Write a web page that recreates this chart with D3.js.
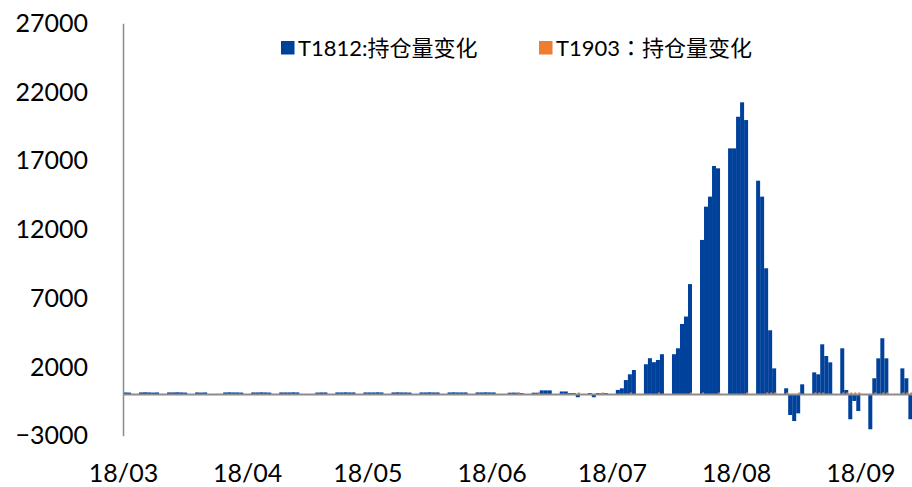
<!DOCTYPE html>
<html>
<head>
<meta charset="utf-8">
<script src="https://cdn.jsdelivr.net/npm/d3@7"></script>
<style>
  html, body { margin: 0; padding: 0; background: #fff; }
  svg { display: block; }
  text { font-family: Lato, "Noto Sans CJK SC", sans-serif; fill: #000; }
</style>
</head>
<body>
<svg id="chart" width="912" height="487"></svg>
<script>
// Trading days (2018) and daily open-interest changes for the two contracts
const dates = [
  "2018-03-01","2018-03-02",
  "2018-03-05","2018-03-06","2018-03-07","2018-03-08","2018-03-09",
  "2018-03-12","2018-03-13","2018-03-14","2018-03-15","2018-03-16",
  "2018-03-19","2018-03-20","2018-03-21","2018-03-22","2018-03-23",
  "2018-03-26","2018-03-27","2018-03-28","2018-03-29","2018-03-30",
  "2018-04-02","2018-04-03","2018-04-04","2018-04-05","2018-04-06",
  "2018-04-09","2018-04-10","2018-04-11","2018-04-12","2018-04-13",
  "2018-04-16","2018-04-17","2018-04-18","2018-04-19","2018-04-20",
  "2018-04-23","2018-04-24","2018-04-25","2018-04-26","2018-04-27",
  "2018-04-30","2018-05-01","2018-05-02","2018-05-03","2018-05-04",
  "2018-05-07","2018-05-08","2018-05-09","2018-05-10","2018-05-11",
  "2018-05-14","2018-05-15","2018-05-16","2018-05-17","2018-05-18",
  "2018-05-21","2018-05-22","2018-05-23","2018-05-24","2018-05-25",
  "2018-05-28","2018-05-29","2018-05-30","2018-05-31","2018-06-01",
  "2018-06-04","2018-06-05","2018-06-06","2018-06-07","2018-06-08",
  "2018-06-11","2018-06-12","2018-06-13","2018-06-14","2018-06-15",
  "2018-06-18","2018-06-19","2018-06-20","2018-06-21","2018-06-22",
  "2018-06-25","2018-06-26","2018-06-27","2018-06-28","2018-06-29",
  "2018-07-02","2018-07-03","2018-07-04","2018-07-05","2018-07-06",
  "2018-07-09","2018-07-10","2018-07-11","2018-07-12","2018-07-13",
  "2018-07-16","2018-07-17","2018-07-18","2018-07-19","2018-07-20",
  "2018-07-23","2018-07-24","2018-07-25","2018-07-26","2018-07-27",
  "2018-07-30","2018-07-31","2018-08-01","2018-08-02","2018-08-03",
  "2018-08-06","2018-08-07","2018-08-08","2018-08-09","2018-08-10",
  "2018-08-13","2018-08-14","2018-08-15","2018-08-16","2018-08-17",
  "2018-08-20","2018-08-21","2018-08-22","2018-08-23","2018-08-24",
  "2018-08-27","2018-08-28","2018-08-29","2018-08-30","2018-08-31",
  "2018-09-03","2018-09-04","2018-09-05","2018-09-06","2018-09-07",
  "2018-09-10","2018-09-11","2018-09-12","2018-09-13"
];

const t1812 = [
  150, 140,
  150, 160, 150, 140, 150,
  150, 150, 160, 150, 140,
  150, 140, 150, 0, 0,
  150, 160, 150, 150, 140,
  150, 150, 160, 150, 140,
  150, 150, 150, 160, 150,
  0, 0, 140, 150, 150,
  150, 150, 160, 150, 150,
  150, 150, 150, 160, 150,
  150, 160, 150, 150, 140,
  150, 150, 160, 150, 150,
  150, 160, 150, 150, 150,
  150, 150, 160, 150, 150,
  0, 130, 140, 130, 100,
  130, 130, 300, 300, 300,
  220, 220, 100, 100, -200,
  100, -200, 100, 80, 100,
  330, 450, 1050, 1470, 1780,
  2200, 2640, 2350, 2510, 2930,
  2930, 3360, 5130, 5670, 8030,
  11240, 13660, 14390, 16620, 16450,
  17900, 17900, 20200, 21250, 19960,
  15550, 14390, 9180, 4670, 1900,
  450, -1490, -1930, -1370, 740,
  1610, 1470, 3650, 2800, 2340,
  3360, 330, -1800, -470, -1200,
  -2530, 1180, 2630, 4090, 2630,
  0, 1900, 1180, -1800
];

const t1903 = [
  0, 0,
  0, 0, 0, 0, 0,
  0, 0, 0, 0, 0,
  0, 0, 0, 0, 0,
  0, 0, 0, 0, 0,
  0, 0, 0, 0, 0,
  0, 0, 0, 0, 0,
  0, 0, 0, 0, 0,
  0, 0, 0, 0, 0,
  0, 0, 0, 0, 0,
  0, 0, 0, 0, 0,
  0, 0, 0, 0, 0,
  0, 0, 0, 0, 0,
  0, 0, 0, 0, 0,
  0, 0, 0, 150, 0,
  0, 150, 0, 0, 0,
  0, 0, 0, 0, 150,
  0, 0, 0, 150, 0,
  0, 0, 0, 150, 0,
  0, 0, 0, 150, 0,
  0, 0, 0, 0, 150,
  150, 0, 0, 0, 150,
  0, 0, 0, 0, 150,
  0, 0, 150, 150, 150,
  150, 0, 0, 150, 0,
  150, 150, 150, 0, 0,
  150, 150, 150, 150, 150,
  0, 150, 0, 150, 150,
  0, 150, 150, 150
];

const yTicks = [-3000, 2000, 7000, 12000, 17000, 22000, 27000];
// each legend name is split so the full-width colon can use a centred CJK form
const seriesNames = [["T1812:", "", "持仓量变化"], ["T1903", "：", "持仓量变化"]];
const seriesColors = ["#00419b", "#ed7d31"];

const parse = d3.utcParse("%Y-%m-%d");
const rows = dates.map((d, i) => ({ date: parse(d), a: t1812[i], b: t1903[i] }));

const svg = d3.select("#chart");

const dayPx = 4.007;
const start = parse("2018-03-01");
const end = parse("2018-09-15");
const nDays = d3.utcDay.count(start, end);
const x = d3.scaleUtc().domain([start, end]).range([123, 123 + nDays * dayPx]);
const y = d3.scaleLinear().domain([-3000, 27000]).range([435.75, 23.25]);

const slot = d => x(d3.utcDay.offset(d, 1)) - x(d);

// T1812 bars fill the whole day slot
svg.append("g")
  .selectAll("rect")
  .data(rows.filter(r => r.a !== 0))
  .join("rect")
  .attr("x", d => x(d.date))
  .attr("width", d => slot(d.date))
  .attr("y", d => y(Math.max(0, d.a)))
  .attr("height", d => Math.abs(y(d.a) - y(0)))
  .attr("fill", seriesColors[0]);

// T1903 bars sit on the right half of each slot, drawn over T1812
svg.append("g")
  .selectAll("rect")
  .data(rows.filter(r => r.b !== 0))
  .join("rect")
  .attr("x", d => x(d.date) + slot(d.date) / 2)
  .attr("width", d => slot(d.date) / 2)
  .attr("y", d => y(Math.max(0, d.b)))
  .attr("height", d => Math.abs(y(d.b) - y(0)))
  .attr("fill", seriesColors[1]);

// zero line
svg.append("line")
  .attr("x1", 123).attr("x2", 912)
  .attr("y1", y(0)).attr("y2", y(0))
  .attr("stroke", "#8c8c8c").attr("stroke-width", 2);

// value axis
const yAxis = d3.axisLeft(y).tickValues(yTicks).tickSize(0).tickPadding(35)
  .tickFormat(d3.format("d"));
const gy = svg.append("g").attr("transform", "translate(123,0)").call(yAxis);
gy.select(".domain").attr("stroke", "#8c8c8c").attr("stroke-width", 1.5);
gy.selectAll("text").style("font-size", "25px").attr("fill", "#000")
  .style("font-family", "Lato, sans-serif");

// date axis, one label per month, set below the plot
const xAxis = d3.axisBottom(x).ticks(d3.utcMonth.every(1)).tickSize(0)
  .tickFormat(d3.utcFormat("%y/%m"));
const gx = svg.append("g").attr("transform", "translate(0,450)").call(xAxis);
gx.select(".domain").remove();
gx.selectAll("text").style("font-size", "25px").attr("fill", "#000")
  .attr("dy", null).attr("y", 32)
  .style("font-family", "Lato, sans-serif");

// legend
const legend = svg.append("g");
const legendX = [281, 539];
seriesNames.forEach((parts, i) => {
  legend.append("rect")
    .attr("x", legendX[i]).attr("y", 41)
    .attr("width", 13.5).attr("height", 13.5)
    .attr("fill", seriesColors[i]);
  const t = legend.append("text")
    .attr("x", legendX[i] + 17).attr("y", 55.5)
    .style("font-size", "22px");
  t.append("tspan").text(parts[0]);
  if (parts[1]) {
    t.append("tspan").style("font-family", "'Noto Sans CJK TC', sans-serif").text(parts[1]);
  }
  t.append("tspan").text(parts[2]);
});
</script>
</body>
</html>
